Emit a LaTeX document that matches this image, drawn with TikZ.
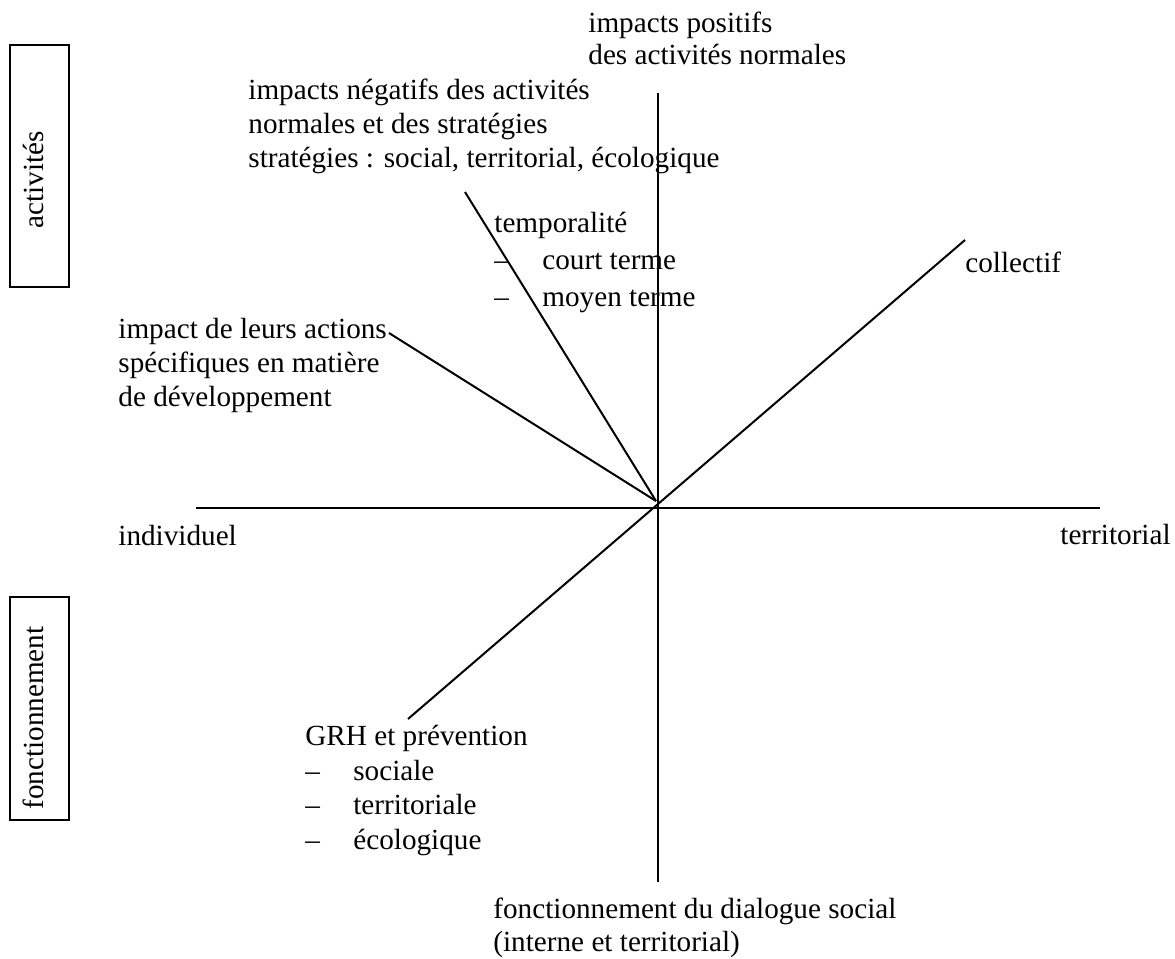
\documentclass[tikz,border=0pt]{standalone}
\usepackage{fontspec}
\setmainfont{Liberation Serif}
\tikzset{
  axe/.style={line width=1pt},
  boxline/.style={line width=0.8pt},
  sidelbl/.style={rotate=90, anchor=base, inner sep=0pt, font=\fontsize{14.6}{17}\selectfont},
  lbl/.style={anchor=base west, inner sep=0pt, align=left, font=\fontsize{14.6}{17}\selectfont},
}
\newcommand{\tiret}{\makebox[24pt][l]{--}}
\begin{document}
\begin{tikzpicture}[x=0.5pt, y=-0.5pt]
	\useasboundingbox (0,0) rectangle (1175,959);
	% side boxes
	\draw[boxline] (10,45) rectangle (69,287);
	\node[sidelbl] (act) at (43,180) {activités};
	\draw[boxline] (10,597) rectangle (69,820);
	\node[sidelbl] (fonc) at (43,718) {fonctionnement};
	% axes
	\coordinate (o) at (658,507.5);
	\coordinate (w) at (196,507.5);
	\coordinate (e) at (1100,507.5);
	\coordinate (n) at (658,93);
	\coordinate (s) at (658,882);
	\coordinate (ne) at (965,240);
	\coordinate (sw) at (408,719);
	\coordinate (nw) at (389,333);
	\coordinate (nnw) at (465,192);
	\coordinate (c1) at (656,501);
	\draw[axe] (w) -- (e);
	\draw[axe] (n) -- (s);
	\draw[axe] (sw) -- (ne);
	\draw[axe] (nw) -- (c1);
	\draw[axe] (nnw) -- (c1);
	% labels (anchored at the baseline of the last line)
	\node[lbl, font=\fontsize{14.6}{16}\selectfont] (pos) at (588,64) {impacts positifs\\des activités normales};
	\node[lbl] (neg) at (248,167) {impacts négatifs des activités\\normales et des stratégies\\stratégies : social, territorial, écologique};
	\node[lbl, font=\fontsize{14.6}{18.3}\selectfont] (temp) at (494,306) {temporalité\\\tiret court terme\\\tiret moyen terme};
	\node[lbl] (coll) at (965,272) {collectif};
	\node[lbl] (imp) at (118,406) {impact de leurs actions\\spécifiques en matière\\de développement};
	\node[lbl] (ind) at (118,545) {individuel};
	\node[lbl] (terr) at (1060,544) {territorial};
	\node[lbl, font=\fontsize{14.6}{17.2}\selectfont] (grh) at (305,849) {GRH et prévention\\\tiret sociale\\\tiret territoriale\\\tiret écologique};
	\node[lbl, font=\fontsize{14.6}{16.5}\selectfont] (dial) at (493,951) {fonctionnement du dialogue social\\(interne et territorial)};
\end{tikzpicture}
\end{document}
